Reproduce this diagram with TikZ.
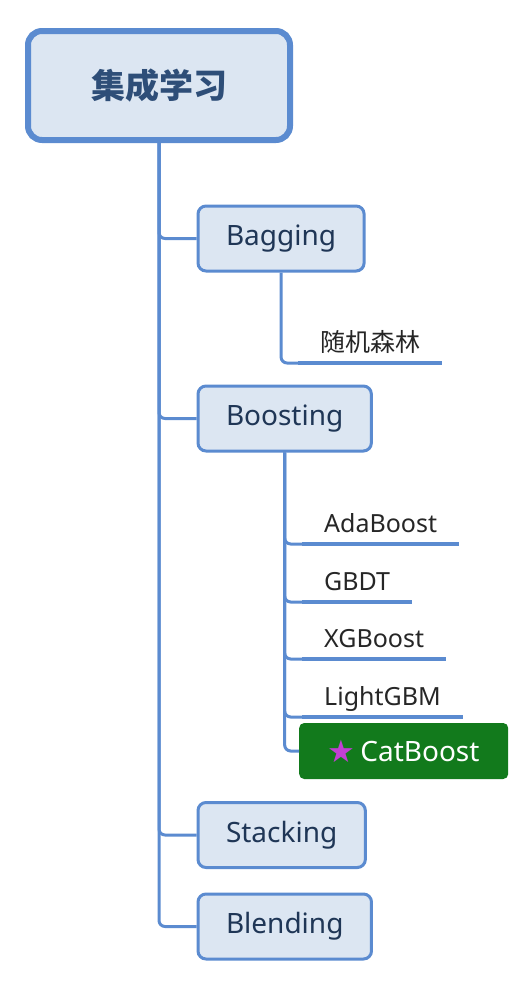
\documentclass[tikz,border=0pt]{standalone}
\usepackage{fontspec}
\setmainfont{Noto Sans}
\newfontfamily\cjk{Noto Sans CJK SC}
\newfontfamily\symfont{DejaVu Sans}
\definecolor{lineblue}{HTML}{5B8BD0}
\definecolor{boxfill}{HTML}{DCE6F2}
\definecolor{navy}{HTML}{1F3656}
\definecolor{rootnavy}{HTML}{2E4E78}
\definecolor{catgreen}{HTML}{127A1C}
\definecolor{starpink}{HTML}{C23FD3}
\tikzset{
  root/.style={draw=lineblue, fill=boxfill, line width=6pt, rounded corners=14pt, minimum width=262pt, minimum height=109pt, text=rootnavy, font=\fontsize{34}{40}\selectfont},
  topic/.style={draw=lineblue, fill=boxfill, line width=3pt, rounded corners=8pt, minimum height=65pt, inner xsep=28pt, anchor=west, text=navy, font=\fontsize{28}{32}\selectfont},
  leaf/.style={anchor=south west, inner xsep=22pt, inner ysep=9pt, text height=0.75em, text depth=0.2em, text=black!85, font=\fontsize{25}{29}\selectfont},
  hilite/.style={fill=catgreen, rounded corners=5pt, anchor=west, minimum width=209pt, minimum height=56pt, text=white, font=\fontsize{28}{32}\selectfont},
  link/.style={draw=lineblue, line width=3pt, rounded corners=6pt},
  uline/.style={draw=lineblue, line width=4pt},
}
\begin{document}
\begin{tikzpicture}[x=1pt, y=-1pt]
\useasboundingbox (0,0) rectangle (530,983);
% main topic
\node[root] (root) at (159,85.5) {\cjk\bfseries 集成学习};
% first level
\node[topic] (bagging) at (196.5,238.5) {Bagging};
\node[topic] (boosting) at (196.5,418.5) {Boosting};
\node[topic] (stacking) at (196.5,835) {Stacking};
\node[topic] (blending) at (196.5,926.5) {Blending};
% leaves
\node[leaf] (rf) at (298,363) {\cjk 随机森林};
\node[leaf] (ada) at (302,544) {AdaBoost};
\node[leaf] (gbdt) at (302,602) {GBDT};
\node[leaf] (xgb) at (302,659) {XGBoost};
\node[leaf] (lgbm) at (302,717) {LightGBM};
\node[hilite] (cat) at (299,751) {\raisebox{-1pt}{\symfont\fontsize{31}{34}\selectfont\color{starpink}★}\,CatBoost};
% connectors
\foreach \t in {bagging,boosting,stacking,blending}
  \draw[link] (root.south) |- (\t.west);
\draw[link] (bagging.south) |- (rf.south west);
\foreach \l in {ada,gbdt,xgb,lgbm}
  \draw[link] (boosting.south) |- (\l.south west);
\draw[link] (boosting.south) |- (cat.west);
% underlines
\foreach \l in {rf,ada,gbdt,xgb,lgbm}
  \draw[uline] (\l.south west) -- (\l.south east);
\end{tikzpicture}
\end{document}
